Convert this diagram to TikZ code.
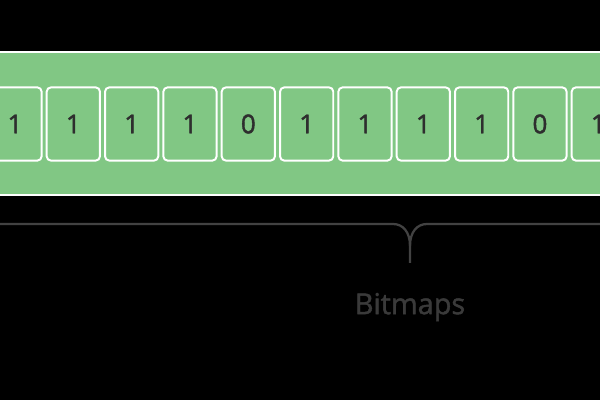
\documentclass[tikz,border=0pt]{standalone}
\usepackage{fontspec}
\setmainfont{Open Sans}
\newfontfamily\semibold[FakeBold=1.6]{Open Sans}
\usetikzlibrary{positioning,calc}
\definecolor{bitgreen}{HTML}{81C784}
\definecolor{digitgray}{HTML}{2E2E2E}
\definecolor{bracegray}{HTML}{424242}
\definecolor{capgray}{HTML}{3A3A3A}
\tikzset{
  % band and bits
  band/.style={draw=white,fill=bitgreen,line width=1.1pt},
  bit/.style={draw=white,fill=bitgreen,line width=1.4pt,rounded corners=3pt,
              minimum width=1.33cm,minimum height=1.83cm,inner sep=0pt,
              text=digitgray,font=\semibold\fontsize{18.5}{20}\selectfont},
  % brace
  brace/.style={draw=bracegray,line width=1.6pt,line join=round},
  bracelabel/.style={text=capgray,font=\semibold\fontsize{20.5}{22}\selectfont},
}
\begin{document}
\begin{tikzpicture}[x=0.025cm,y=-0.025cm]
\useasboundingbox (0,0) rectangle (600,400);
  \fill[black] (0,0) rectangle (600,400);
  \draw[band] (-10,52) rectangle (610,195);
  \foreach \b [count=\i from 0] in {1,1,1,1,0,1,1,1,1,0,1}
    \node[bit] (b\i) at (15+58.33*\i,124) {\b};
  \coordinate (bl) at (-10,224);
  \coordinate (br) at (610,224);
  \coordinate (stem) at (410,246);
  \coordinate (tip) at (410,263);
  \draw[brace] (bl) -- (393,224) .. controls (403,224) and (410,232) .. (stem) -- (tip);
  \draw[brace] (br) -- (427,224) .. controls (417,224) and (410,232) .. (stem);
  \node[bracelabel] (lbl) at (410,307) {Bitmaps};
\end{tikzpicture}
\end{document}
